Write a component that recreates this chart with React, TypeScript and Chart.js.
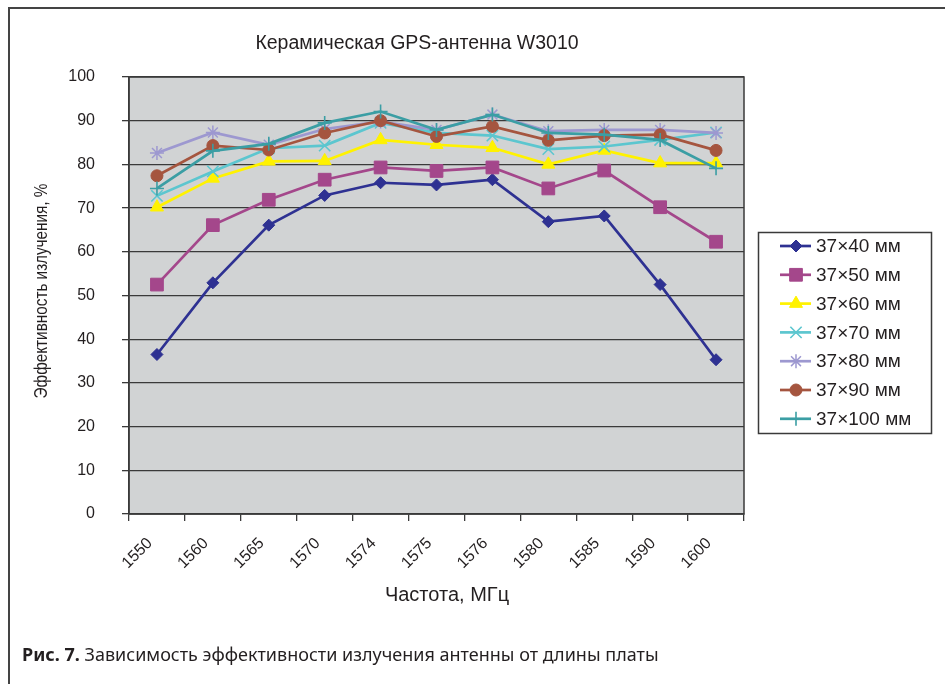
import React, { useEffect, useRef } from 'react';
import { Chart, registerables } from 'chart.js';
import { drawPoint } from 'chart.js/helpers';

Chart.register(...registerables);

const chartTitle = 'Керамическая GPS-антенна W3010';
const yTitle = 'Эффективность излучения, %';
const xTitle = 'Частота, МГц';

const categories = ['1550', '1560', '1565', '1570', '1574', '1575', '1576', '1580', '1585', '1590', '1600'];

const seriesNames = ['37×40 мм', '37×50 мм', '37×60 мм', '37×70 мм', '37×80 мм', '37×90 мм', '37×100 мм'];

const s40 = [36.5, 52.9, 66.1, 72.9, 75.8, 75.3, 76.5, 66.9, 68.2, 52.5, 35.3];
const s50 = [52.5, 66.1, 71.9, 76.5, 79.3, 78.5, 79.3, 74.5, 78.6, 70.2, 62.3];
const s60 = [70.2, 76.8, 80.7, 80.8, 85.6, 84.5, 83.8, 80.0, 83.2, 80.3, 80.3];
const s70 = [72.8, 78.4, 83.7, 84.3, 89.5, 87.2, 86.6, 83.5, 84.1, 85.6, 87.3];
const s80 = [82.6, 87.3, 84.5, 88.1, 89.8, 87.9, 91.4, 87.6, 87.9, 87.9, 87.2];
const s90 = [77.4, 84.3, 83.3, 87.2, 90.0, 86.4, 88.7, 85.5, 86.6, 86.8, 83.2];
const s100 = [74.5, 83.1, 84.7, 89.5, 92.1, 87.9, 91.4, 87.2, 86.8, 85.6, 79.1];

const seriesValues = [s40, s50, s60, s70, s80, s90, s100];

const colors = ['#2e3192', '#a4478b', '#fff200', '#5cc6cf', '#9d98d0', '#a5553f', '#3b9ea4'];
const pointStyles = ['rectRot', 'rect', 'triangle', 'crossRot', 'star', 'circle', 'cross'];
const pointRadii = [6, 9, 7.5, 8, 7, 6, 7];
const pointBorders = [1, 1, 1, 1.6, 1.5, 1, 1.6];

const FONT = '"Liberation Sans", Arial, sans-serif';

const decorPlugin = {
  id: 'decor',
  beforeDraw(chart: any) {
    const { ctx, chartArea: a } = chart;
    ctx.save();
    ctx.fillStyle = '#d1d3d4';
    ctx.fillRect(a.left, a.top, a.right - a.left, a.bottom - a.top);
    ctx.restore();
  },
  beforeDatasetsDraw(chart: any) {
    const { ctx, chartArea: a } = chart;
    ctx.save();
    ctx.strokeStyle = '#3a3a3a';
    ctx.lineWidth = 1.5;
    ctx.strokeRect(a.left, a.top, a.right - a.left, a.bottom - a.top);
    ctx.restore();
  },
  afterDraw(chart: any) {
    const { ctx } = chart;
    ctx.save();
    ctx.fillStyle = '#231f20';
    ctx.textAlign = 'center';
    ctx.textBaseline = 'middle';
    ctx.font = `19.5px ${FONT}`;
    ctx.fillText(chartTitle, 417, 44);
    ctx.font = `20px ${FONT}`;
    ctx.fillText(xTitle, 447, 595);
    ctx.save();
    ctx.translate(42, 291);
    ctx.rotate(-Math.PI / 2);
    ctx.scale(0.85, 1);
    ctx.font = `18px ${FONT}`;
    ctx.fillText(yTitle, 0, 0);
    ctx.restore();

    // legend
    const bx = 758.5, by = 232.5, bw = 173, bh = 201;
    ctx.fillStyle = '#ffffff';
    ctx.fillRect(bx, by, bw, bh);
    ctx.strokeStyle = '#3a3a3a';
    ctx.lineWidth = 1.5;
    ctx.strokeRect(bx, by, bw, bh);
    ctx.font = `19px ${FONT}`;
    ctx.textAlign = 'left';
    ctx.textBaseline = 'middle';
    seriesNames.forEach((name, i) => {
      const y = 246 + i * 28.8;
      ctx.strokeStyle = colors[i];
      ctx.lineWidth = 2.7;
      ctx.beginPath();
      ctx.moveTo(780, y);
      ctx.lineTo(811, y);
      ctx.stroke();
      ctx.fillStyle = colors[i];
      ctx.lineWidth = pointBorders[i];
      drawPoint(ctx, { pointStyle: pointStyles[i], radius: pointRadii[i], rotation: 0, borderWidth: pointBorders[i] } as any, 796, y);
      ctx.fillStyle = '#231f20';
      ctx.fillText(name, 816, y + 1);
    });
    ctx.restore();
  },
};

export default function App() {
  const ref = useRef<HTMLCanvasElement | null>(null);

  useEffect(() => {
    if (!ref.current) return;
    const n = seriesValues.length;
    const chart = new Chart(ref.current, {
      type: 'line',
      data: {
        labels: categories,
        datasets: seriesValues.map((vals, i) => ({
          label: seriesNames[i],
          data: vals,
          borderColor: colors[i],
          backgroundColor: colors[i],
          borderWidth: 2.7,
          pointStyle: pointStyles[i] as any,
          pointRadius: pointRadii[i],
          pointBorderWidth: pointBorders[i],
          pointBackgroundColor: colors[i],
          pointBorderColor: colors[i],
          tension: 0,
          fill: false,
          order: n - i,
        })),
      },
      options: {
        animation: false,
        responsive: false,
        devicePixelRatio: 1,
        layout: { padding: { left: 0, top: 77, right: 201, bottom: 0 } },
        plugins: {
          legend: { display: false },
          title: { display: false },
          tooltip: { enabled: false },
        },
        scales: {
          x: {
            type: 'category',
            offset: true,
            grid: {
              offset: true,
              drawOnChartArea: false,
              drawTicks: true,
              tickLength: 7,
              color: '#3a3a3a',
              lineWidth: 1.3,
            },
            border: { display: true, color: '#3a3a3a', width: 1.5 },
            ticks: {
              autoSkip: false,
              minRotation: 45,
              maxRotation: 45,
              padding: 13,
              labelOffset: -7,
              color: '#231f20',
              font: { family: FONT, size: 16 },
            },
            afterFit: (s: any) => { s.height = 170; },
          },
          y: {
            min: 0,
            max: 100,
            ticks: {
              stepSize: 10,
              padding: 27,
              color: '#231f20',
              font: { family: FONT, size: 16 },
            },
            grid: {
              color: '#3a3a3a',
              lineWidth: 1.3,
              drawTicks: true,
              tickLength: 7,
            },
            border: { display: true, color: '#3a3a3a', width: 1.5 },
            afterFit: (s: any) => { s.width = 129; },
          },
        },
      },
      plugins: [decorPlugin],
    });
    return () => chart.destroy();
  }, []);

  return (
    <div style={{ position: 'fixed', left: 0, top: 0, width: 945, height: 684, overflow: 'hidden', background: '#fff' }}>
      <div style={{ position: 'absolute', left: 8, top: 7, width: 2000, height: 2000, borderTop: '2px solid #444', borderLeft: '2px solid #444' }} />
      <canvas ref={ref} width={945} height={684} style={{ position: 'absolute', left: 0, top: 0, width: 945, height: 684 }} />
      <div style={{ position: 'absolute', left: 22, top: 642, fontFamily: '"Noto Sans", sans-serif', fontSize: 18, color: '#231f20', whiteSpace: 'nowrap' }}>
        <b>Рис. 7.</b> Зависимость эффективности излучения антенны от длины платы
      </div>
    </div>
  );
}
